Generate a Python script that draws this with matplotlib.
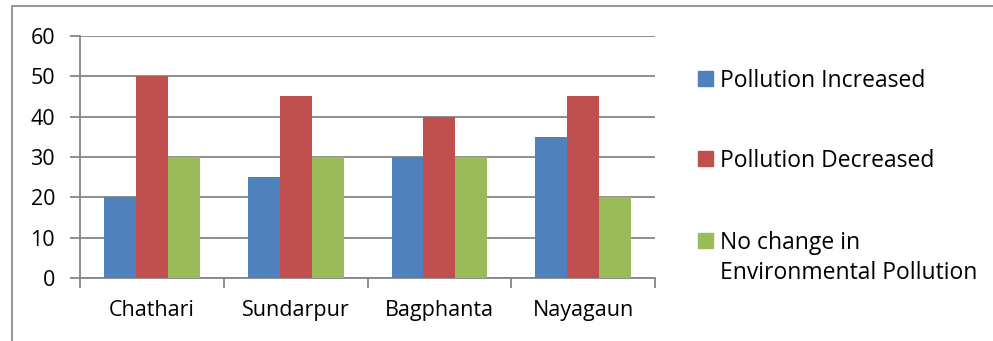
import numpy as np
import matplotlib.pyplot as plt
from matplotlib.lines import Line2D
from matplotlib.patches import Rectangle

villages = ["Chathari", "Sundarpur", "Bagphanta", "Nayagaun"]
increased = [20, 25, 30, 35]
decreased = [50, 45, 40, 45]
no_change = [30, 30, 30, 20]
series_names = ["Pollution Increased", "Pollution Decreased",
                "No change in\nEnvironmental Pollution"]
colors = ["#4F81BD", "#C0504D", "#9BBB59"]

plt.rcParams["font.family"] = ["Open Sans", "DejaVu Sans"]
grid_col = "#868686"

W, H = 993, 341
fig = plt.figure(figsize=(W / 100, H / 100), dpi=100)
ax = fig.add_axes([0.0806, 0.1848, 0.579, 0.7097])

x = np.arange(len(villages))
w = 0.222
for i, (vals, name, c) in enumerate(zip([increased, decreased, no_change], series_names, colors)):
    ax.bar(x + (i - 1) * w, vals, width=w, color=c, label=name, zorder=3)

ax.set_xlim(-0.5, len(villages) - 0.5)
ax.set_ylim(0, 60)
ax.set_yticks(range(0, 61, 10))
ax.yaxis.grid(True, color=grid_col, linewidth=1.3, zorder=0)
ax.set_xticks(x)
ax.set_xticklabels(villages)
ax.set_xticks(np.arange(-0.5, len(villages)), minor=True)
ax.tick_params(axis="x", which="major", length=0, pad=16, labelsize=15.5)
ax.tick_params(axis="x", which="minor", length=7, color=grid_col, width=1.3)
ax.tick_params(axis="y", length=7, color=grid_col, width=1.3, pad=11, labelsize=15.5)
for s in ["top", "right"]:
    ax.spines[s].set_visible(False)
for s in ["left", "bottom"]:
    ax.spines[s].set_color(grid_col)
    ax.spines[s].set_linewidth(1.3)

# legend: square marker beside the first line of each label
legend_y = [78, 158, 240]
for name, c, yy in zip(series_names, colors, legend_y):
    fy = 1 - yy / H
    fig.add_artist(Rectangle((698 / W, fy - 7.5 / H), 15 / W, 15 / H,
                             transform=fig.transFigure, color=c))
    fig.text(720 / W, fy + 9 / H, name, fontsize=16.5, va="top", ha="left",
             linespacing=1.35)

# chart border
fig.add_artist(Line2D([0.0121, 0.0121, 1.0], [0.0, 0.982, 0.982],
                      transform=fig.transFigure, color="#8c8c8c", linewidth=1.3))

fig.savefig("out.png", dpi=100)
